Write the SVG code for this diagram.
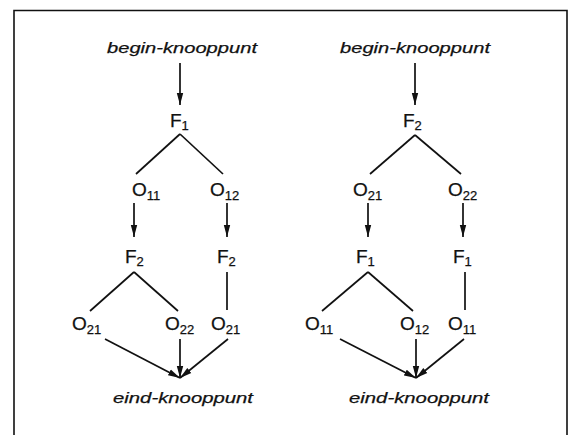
<svg xmlns="http://www.w3.org/2000/svg" width="576" height="435" viewBox="0 0 576 435">
<style>
.t{font-family:"Liberation Sans",Arial,sans-serif;fill:#111;stroke:#111;stroke-width:0.25}
.it{font-style:italic;font-size:15px}
.n{font-size:19px}
.s{font-size:13px}
.ln{stroke:#111;stroke-width:1.7;fill:none}
.ar{stroke:#111;stroke-width:1.7;fill:none;marker-end:url(#ah)}
</style>
<defs>
<marker id="ah" markerUnits="userSpaceOnUse" markerWidth="13" markerHeight="8" refX="12" refY="4" orient="auto">
<path d="M0,0.8 L12,4 L0,7.2 Z" fill="#111"/>
</marker>
</defs>
<rect width="576" height="435" fill="#fff"/>
<path d="M14,435 V10.5 H567 V435" stroke="#111" stroke-width="1.6" fill="none"/>
<g id="connectors">
<line class="ar" x1="180" y1="63" x2="180" y2="105"/>
<line class="ln" x1="180" y1="134" x2="136" y2="174"/>
<line class="ln" x1="180" y1="134" x2="223" y2="174"/>
<line class="ar" x1="134" y1="203" x2="134" y2="237"/>
<line class="ar" x1="227" y1="203" x2="227" y2="237"/>
<line class="ln" x1="134" y1="272" x2="90" y2="311"/>
<line class="ln" x1="134" y1="272" x2="178" y2="311"/>
<line class="ln" x1="227" y1="272" x2="227" y2="310"/>
<line class="ar" x1="105" y1="339" x2="180" y2="378"/>
<line class="ar" x1="180" y1="339" x2="180" y2="378"/>
<line class="ar" x1="228" y1="339" x2="180" y2="378"/>
<line class="ar" x1="415" y1="63" x2="415" y2="105"/>
<line class="ln" x1="415" y1="135" x2="370" y2="174"/>
<line class="ln" x1="415" y1="135" x2="461" y2="174"/>
<line class="ar" x1="368" y1="203" x2="368" y2="237"/>
<line class="ar" x1="463" y1="203" x2="463" y2="237"/>
<line class="ln" x1="368" y1="272" x2="322" y2="311"/>
<line class="ln" x1="368" y1="272" x2="413" y2="311"/>
<line class="ln" x1="465" y1="272" x2="465" y2="310"/>
<line class="ar" x1="340" y1="339" x2="416" y2="378"/>
<line class="ar" x1="416" y1="339" x2="416" y2="378"/>
<line class="ar" x1="464" y1="339" x2="416" y2="378"/>
</g>
<g id="begin1"><text class="t it" x="107" y="53" textLength="150" lengthAdjust="spacingAndGlyphs">begin-knooppunt</text></g>
<g id="L_F1"><text class="t n" x="170" y="127">F<tspan class="s" dy="3">1</tspan></text></g>
<g id="L_O11"><text class="t n" x="132" y="196">O<tspan class="s" dy="4">11</tspan></text></g>
<g id="L_O12"><text class="t n" x="210" y="196">O<tspan class="s" dy="4">12</tspan></text></g>
<g id="L_F2a"><text class="t n" x="125" y="263">F<tspan class="s" dy="3">2</tspan></text></g>
<g id="L_F2b"><text class="t n" x="217" y="263">F<tspan class="s" dy="3">2</tspan></text></g>
<g id="L_O21a"><text class="t n" x="72" y="330">O<tspan class="s" dy="4">21</tspan></text></g>
<g id="L_O22"><text class="t n" x="165" y="330">O<tspan class="s" dy="4">22</tspan></text></g>
<g id="L_O21b"><text class="t n" x="211" y="330">O<tspan class="s" dy="4">21</tspan></text></g>
<g id="eind1"><text class="t it" x="113" y="403" textLength="140" lengthAdjust="spacingAndGlyphs">eind-knooppunt</text></g>
<g id="begin2"><text class="t it" x="340" y="53" textLength="150" lengthAdjust="spacingAndGlyphs">begin-knooppunt</text></g>
<g id="R_F2"><text class="t n" x="403" y="127">F<tspan class="s" dy="3">2</tspan></text></g>
<g id="R_O21"><text class="t n" x="353" y="196">O<tspan class="s" dy="4">21</tspan></text></g>
<g id="R_O22"><text class="t n" x="448" y="196">O<tspan class="s" dy="4">22</tspan></text></g>
<g id="R_F1a"><text class="t n" x="356" y="263">F<tspan class="s" dy="3">1</tspan></text></g>
<g id="R_F1b"><text class="t n" x="453" y="263">F<tspan class="s" dy="3">1</tspan></text></g>
<g id="R_O11a"><text class="t n" x="305" y="330">O<tspan class="s" dy="4">11</tspan></text></g>
<g id="R_O12"><text class="t n" x="400" y="330">O<tspan class="s" dy="4">12</tspan></text></g>
<g id="R_O11b"><text class="t n" x="448" y="330">O<tspan class="s" dy="4">11</tspan></text></g>
<g id="eind2"><text class="t it" x="349" y="403" textLength="140" lengthAdjust="spacingAndGlyphs">eind-knooppunt</text></g>
</svg>
